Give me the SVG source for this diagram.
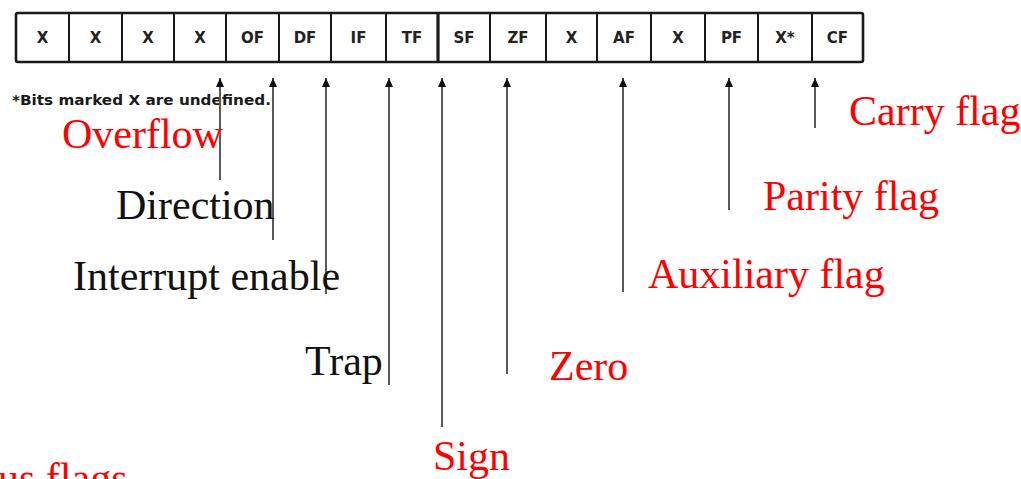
<svg xmlns="http://www.w3.org/2000/svg" width="1021" height="479" viewBox="0 0 1021 479">
<style>
.frame{fill:none;stroke:#1a1a1a;stroke-width:2.6}
.bit{font-family:"DejaVu Sans",sans-serif;font-weight:bold;font-size:15px;fill:#222;text-anchor:middle}
.note{font-family:"DejaVu Sans",sans-serif;font-weight:bold;font-size:14px;fill:#1a1a1a}
.lbl{font-family:"Liberation Serif","Times New Roman",serif;font-size:42px}
.red{fill:#ff0000}
.blk{fill:#111}
.conn{stroke:#5a5a5a;stroke-width:2;fill:none;marker-start:url(#ah)}
</style>
<defs>
<marker id="ah" viewBox="0 0 9 8" refX="9" refY="4" markerWidth="9" markerHeight="8" markerUnits="userSpaceOnUse" orient="auto-start-reverse">
<path d="M0 0 L9 4 L0 8 Z" fill="#111"/>
</marker>
</defs>
<g id="register">
<rect class="frame" x="16" y="13" width="847" height="49" rx="2"/>
<g stroke="#1a1a1a" stroke-width="2">
<line x1="69" y1="13" x2="69" y2="62"/>
<line x1="122" y1="13" x2="122" y2="62"/>
<line x1="174" y1="13" x2="174" y2="62"/>
<line x1="226" y1="13" x2="226" y2="62"/>
<line x1="279" y1="13" x2="279" y2="62"/>
<line x1="331" y1="13" x2="331" y2="62"/>
<line x1="386" y1="13" x2="386" y2="62"/>
<line x1="438" y1="13" x2="438" y2="62" stroke-width="3.2"/>
<line x1="490" y1="13" x2="490" y2="62"/>
<line x1="546" y1="13" x2="546" y2="62"/>
<line x1="597" y1="13" x2="597" y2="62"/>
<line x1="651" y1="13" x2="651" y2="62"/>
<line x1="705" y1="13" x2="705" y2="62"/>
<line x1="758" y1="13" x2="758" y2="62"/>
<line x1="812" y1="13" x2="812" y2="62"/>
</g>
<text class="bit" x="42.5" y="43">X</text>
<text class="bit" x="95.5" y="43">X</text>
<text class="bit" x="148" y="43">X</text>
<text class="bit" x="200" y="43">X</text>
<text class="bit" x="252.5" y="43">OF</text>
<text class="bit" x="305" y="43">DF</text>
<text class="bit" x="358.5" y="43">IF</text>
<text class="bit" x="412" y="43">TF</text>
<text class="bit" x="464" y="43">SF</text>
<text class="bit" x="518" y="43">ZF</text>
<text class="bit" x="571.5" y="43">X</text>
<text class="bit" x="624" y="43">AF</text>
<text class="bit" x="678" y="43">X</text>
<text class="bit" x="731.5" y="43">PF</text>
<text class="bit" x="785" y="43">X*</text>
<text class="bit" x="837.5" y="43">CF</text>
</g>
<g id="footnote">
<text class="note" x="12" y="105" textLength="259" lengthAdjust="spacingAndGlyphs">*Bits marked X are undefined.</text>
</g>
<g id="connectors">
<line class="conn" x1="220" y1="78" x2="220" y2="180"/>
<line class="conn" x1="273" y1="78" x2="273" y2="240"/>
<line class="conn" x1="326" y1="78" x2="326" y2="294"/>
<line class="conn" x1="389" y1="78" x2="389" y2="385"/>
<line class="conn" x1="442" y1="78" x2="442" y2="427"/>
<line class="conn" x1="507" y1="78" x2="507" y2="374"/>
<line class="conn" x1="623" y1="78" x2="623" y2="292"/>
<line class="conn" x1="729" y1="78" x2="729" y2="210"/>
<line class="conn" x1="815" y1="78" x2="815" y2="128"/>
</g>
<g id="overflow"><text class="lbl red" x="62" y="148">Overflow</text></g>
<g id="direction"><text class="lbl blk" x="116" y="219">Direction</text></g>
<g id="interrupt"><text class="lbl blk" x="73" y="290">Interrupt enable</text></g>
<g id="trap"><text class="lbl blk" x="305" y="375">Trap</text></g>
<g id="sign"><text class="lbl red" x="433" y="470">Sign</text></g>
<g id="zero"><text class="lbl red" x="549" y="380">Zero</text></g>
<g id="auxiliary"><text class="lbl red" x="648" y="288">Auxiliary flag</text></g>
<g id="parity"><text class="lbl red" x="763" y="210">Parity flag</text></g>
<g id="carry"><text class="lbl red" x="849" y="125">Carry flag</text></g>
<g id="status"><text class="lbl red" x="-2" y="492">us flags</text></g>
</svg>
